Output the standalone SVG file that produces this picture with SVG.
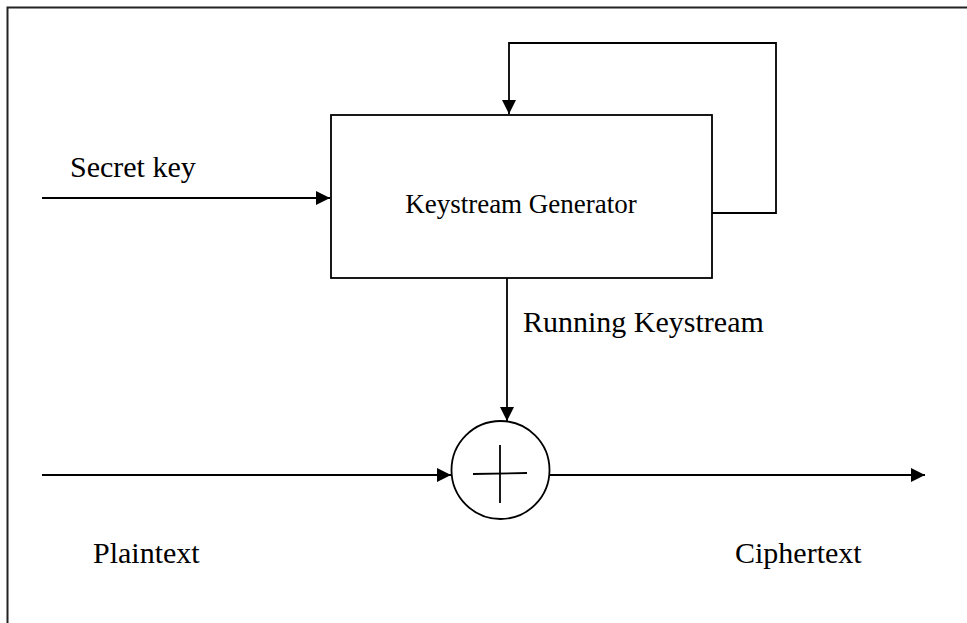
<svg xmlns="http://www.w3.org/2000/svg" width="967" height="623" viewBox="0 0 967 623">
  <defs>
    <marker id="arr" markerUnits="userSpaceOnUse" markerWidth="15" markerHeight="14" refX="14" refY="7" orient="auto">
      <path d="M0,0 L14,7 L0,14 Z" fill="#000"/>
    </marker>
    <style>
      .ln { fill: none; stroke: #000; stroke-width: 1.8; }
      .tx { font-family: "Liberation Serif", "Times New Roman", serif; fill: #000; }
    </style>
  </defs>
  <rect width="967" height="623" fill="#fff"/>
  <path d="M7.5,623 V7.5 H967" fill="none" stroke="#222" stroke-width="2"/>

  <g id="generator">
    <rect class="ln" x="331" y="115" width="381" height="163"/>
    <text class="tx" x="521" y="213" font-size="27" text-anchor="middle">Keystream Generator</text>
  </g>

  <g id="xor">
    <circle class="ln" cx="500.5" cy="470" r="49"/>
    <line class="ln" x1="500" y1="445" x2="500" y2="503"/>
    <line class="ln" x1="473" y1="474" x2="527" y2="473"/>
  </g>

  <g id="labels">
    <text class="tx" x="70" y="177" font-size="30">Secret key</text>
    <text class="tx" x="523" y="332" font-size="30">Running Keystream</text>
    <text class="tx" x="93" y="563" font-size="30">Plaintext</text>
    <text class="tx" x="735" y="563" font-size="30">Ciphertext</text>
  </g>

  <g id="connectors">
    <line class="ln" x1="42" y1="198" x2="330" y2="198" marker-end="url(#arr)"/>
    <path class="ln" d="M712,213 H776 V43 H509 V114" marker-end="url(#arr)"/>
    <line class="ln" x1="507" y1="278" x2="507" y2="421" marker-end="url(#arr)"/>
    <line class="ln" x1="42" y1="475" x2="451" y2="475" marker-end="url(#arr)"/>
    <line class="ln" x1="550" y1="475" x2="925" y2="475" marker-end="url(#arr)"/>
  </g>
</svg>
